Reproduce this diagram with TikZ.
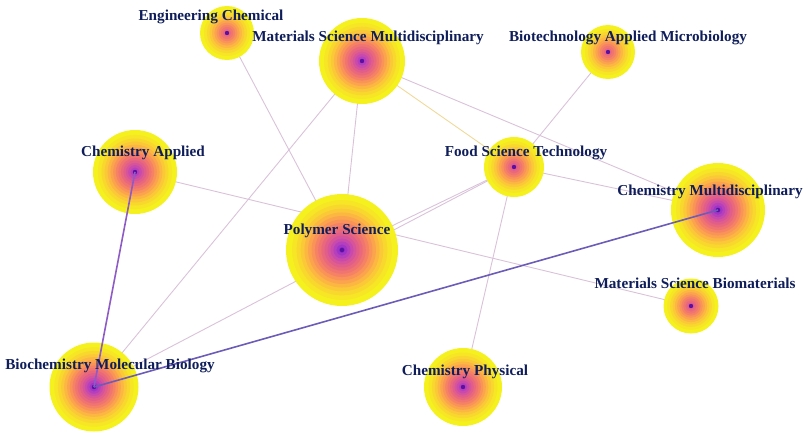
\documentclass[tikz,border=0pt]{standalone}
\usepackage{fontspec}
\setmainfont{Liberation Serif}
\definecolor{r1}{HTML}{F5F11E}
\definecolor{r2}{HTML}{F7E625}
\definecolor{r3}{HTML}{F9D82E}
\definecolor{r4}{HTML}{FBC838}
\definecolor{r5}{HTML}{FCB642}
\definecolor{r6}{HTML}{FBA44D}
\definecolor{r7}{HTML}{F99358}
\definecolor{r8}{HTML}{F58264}
\definecolor{r9}{HTML}{F07470}
\definecolor{r10}{HTML}{EA687C}
\definecolor{r11}{HTML}{E25E8A}
\definecolor{r12}{HTML}{D6549A}
\definecolor{r13}{HTML}{C84AAC}
\definecolor{r14}{HTML}{B640BC}
\definecolor{r15}{HTML}{A034C6}
\definecolor{r16}{HTML}{8A26C8}
\definecolor{dotc}{HTML}{5A10A0}
\definecolor{labc}{HTML}{0F1E5A}
\definecolor{thinc}{HTML}{D9C2D9}
\definecolor{yelc}{HTML}{F0DA9A}
\definecolor{thickp}{HTML}{8E5AC6}
\definecolor{thickb}{HTML}{6C5CB8}
\newcommand\mybubble[3]{%
  \foreach \k in {1,...,#3}{%
    \fill[r\k] (#1.center) circle[radius={#2*(1-((\k-1)/#3)^0.8)*1pt}];
  }%
  \fill[dotc] (#1.center) circle[radius=2.2pt];
}
\tikzset{
  anchorpt/.style={circle, inner sep=0pt, minimum size=2pt},
  lab/.style={text=labc, font=\bfseries\fontsize{15.2}{17}\selectfont, inner sep=0pt},
  thinedge/.style={draw=thinc, line width=0.9pt},
  yeledge/.style={draw=yelc, line width=0.9pt},
  thickedge/.style={line width=1.6pt}
}
\begin{document}
\begin{tikzpicture}[x=1pt,y=-1pt]
\useasboundingbox (0,0) rectangle (809,439);
% node anchors
\node[anchorpt] (ec)  at (227,33)  {};
\node[anchorpt] (msm) at (362,61)  {};
\node[anchorpt] (bam) at (608,52)  {};
\node[anchorpt] (ca)  at (135,172) {};
\node[anchorpt] (fst) at (514,167) {};
\node[anchorpt] (cm)  at (718,210) {};
\node[anchorpt] (ps)  at (342,250) {};
\node[anchorpt] (msb) at (691,306) {};
\node[anchorpt] (bmb) at (94,387)  {};
\node[anchorpt] (cp)  at (463,387) {};
% thin edges
\draw[thinedge] (ec.center) -- (ps.center);
\draw[thinedge] (msm.center) -- (ps.center);
\draw[thinedge] (msm.center) -- (bmb.center);
\draw[thinedge] (msm.center) -- (cm.center);
\draw[yeledge] (msm.center) -- (fst.center);
\draw[thinedge] (bam.center) -- (fst.center);
\draw[thinedge] (ca.center) -- (msb.center);
\draw[thinedge] (ps.center) -- (fst.center);
\draw[thinedge] (bmb.center) -- (fst.center);
\draw[thinedge] (fst.center) -- (cm.center);
\draw[thinedge] (fst.center) -- (cp.center);
% bubbles
\mybubble{ec}{27}{11}
\mybubble{msm}{43}{15}
\mybubble{bam}{27}{11}
\mybubble{ca}{42}{15}
\mybubble{fst}{30}{12}
\mybubble{cm}{47}{16}
\mybubble{ps}{56}{16}
\mybubble{msb}{27.5}{12}
\mybubble{bmb}{44.5}{16}
\mybubble{cp}{39}{15}
% thick edges
\draw[thickedge, thickp] (ca.center) -- (bmb.center);
\draw[thickedge, thickb] (bmb.center) -- (cm.center);
% labels
\node[lab] (lec)  at (211,17)  {Engineering Chemical};
\node[lab] (lmsm) at (368,38)  {Materials Science Multidisciplinary};
\node[lab] (lbam) at (628,38)  {Biotechnology Applied Microbiology};
\node[lab] (lca)  at (143,153) {Chemistry Applied};
\node[lab] (lfst) at (526,153) {Food Science Technology};
\node[lab] (lcm)  at (710,192) {Chemistry Multidisciplinary};
\node[lab] (lps)  at (337,231) {Polymer Science};
\node[lab] (lmsb) at (695,283) {Materials Science Biomaterials};
\node[lab] (lbmb) at (110,366) {Biochemistry Molecular Biology};
\node[lab] (lcp)  at (465,372) {Chemistry Physical};
\end{tikzpicture}
\end{document}
